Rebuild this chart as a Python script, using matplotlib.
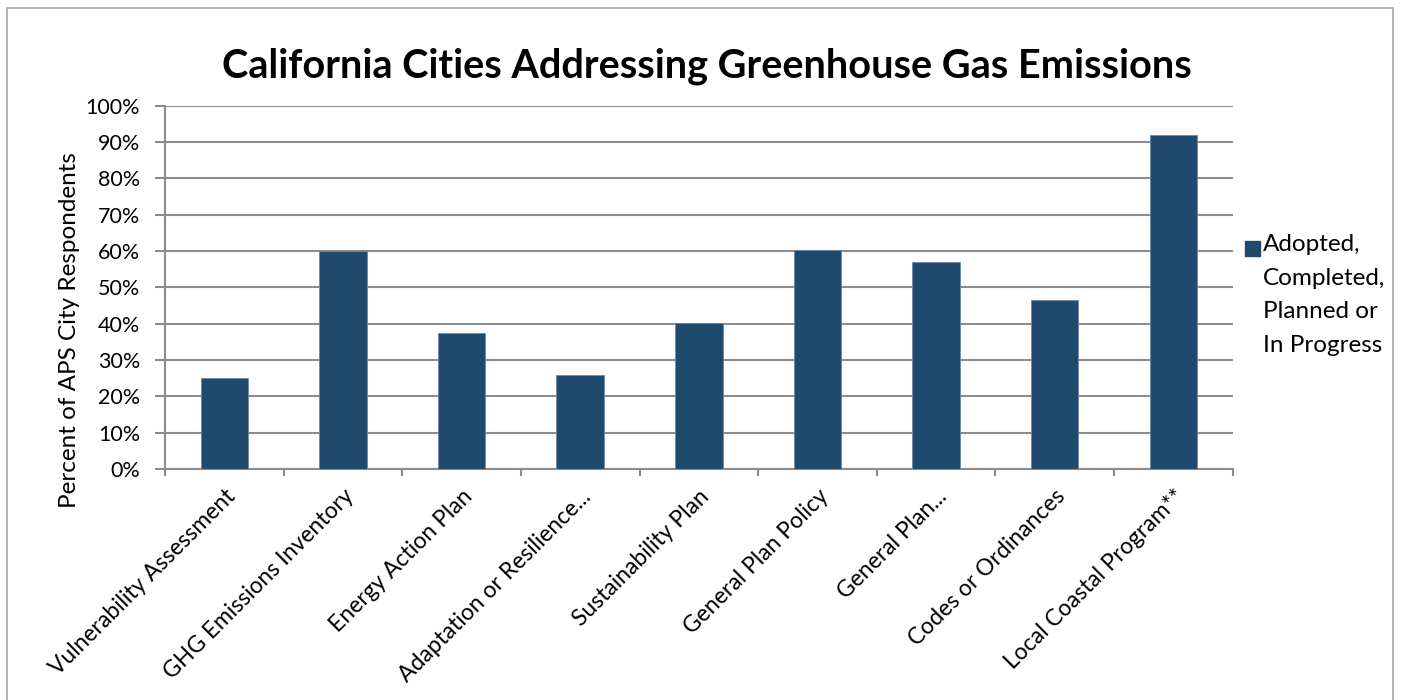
import matplotlib.pyplot as plt
from matplotlib.patches import Rectangle
from matplotlib.ticker import FuncFormatter, MultipleLocator

plt.rcParams['font.family'] = ['Lato', 'DejaVu Sans']

# Survey results
categories = [
    'Vulnerability Assessment',
    'GHG Emissions Inventory',
    'Energy Action Plan',
    'Adaptation or Resilience...',
    'Sustainability Plan',
    'General Plan Policy',
    'General Plan...',
    'Codes or Ordinances',
    'Local Coastal Program**',
]
percent_adopted = [25.0, 60.1, 37.4, 25.8, 40.1, 60.3, 56.9, 46.5, 92.0]
legend_label = 'Adopted,\nCompleted,\nPlanned or\nIn Progress'

bar_color = '#1f4a6e'
grid_color = '#8c8c8c'

fig = plt.figure(figsize=(14.03, 7.0), dpi=100)
ax = fig.add_axes([0.1176, 0.33, 0.761, 0.519])

x = range(len(categories))
ax.bar(x, percent_adopted, width=0.4, color=bar_color,
       edgecolor='#6d8aa5', linewidth=0.6, zorder=3)

ax.set_xlim(-0.5, len(categories) - 0.5)
ax.set_ylim(0, 100)
ax.yaxis.set_major_locator(MultipleLocator(10))
ax.yaxis.set_major_formatter(FuncFormatter(lambda v, p: f'{v:.0f}%'))
ax.grid(axis='y', color=grid_color, linewidth=1.5, zorder=0)

for side in ['top', 'right']:
    ax.spines[side].set_visible(False)
for side in ['left', 'bottom']:
    ax.spines[side].set_color(grid_color)
    ax.spines[side].set_linewidth(1.5)

# category labels at bar centres, tick marks at category boundaries
ax.set_xticks(list(x))
ax.set_xticklabels(categories, rotation=45, ha='right',
                   rotation_mode='anchor', fontsize=16.5)
ax.tick_params(axis='x', which='major', length=0, pad=12)
ax.set_xticks([i - 0.5 for i in range(len(categories) + 1)], minor=True)
ax.tick_params(axis='x', which='minor', length=5, width=1.5, color=grid_color)
ax.tick_params(axis='y', length=7, width=1.5, color=grid_color,
               labelsize=15.5, pad=11)

ax.set_ylabel('Percent of APS City Respondents', fontsize=17.5)
ax.yaxis.set_label_coords(-0.080, 0.382)

fig.text(0.504, 0.906, 'California Cities Addressing Greenhouse Gas Emissions',
         ha='center', va='center', fontsize=28.5, fontweight='bold')

# legend entry on the right
fig.add_artist(Rectangle((1245 / 1403, 1 - 256 / 700), 15 / 1403, 15 / 700,
                         transform=fig.transFigure, color=bar_color))
fig.text(1263 / 1403, 1 - 234 / 700, legend_label, ha='left', va='top',
         fontsize=17.5, linespacing=1.74)

# chart frame
fig.add_artist(Rectangle((7 / 1403, -0.01), 1386 / 1403, 1 - 8 / 700 + 0.01,
                         transform=fig.transFigure, fill=False,
                         edgecolor='#a6a6a6', linewidth=1.2))

fig.savefig('out.png', dpi=100)
